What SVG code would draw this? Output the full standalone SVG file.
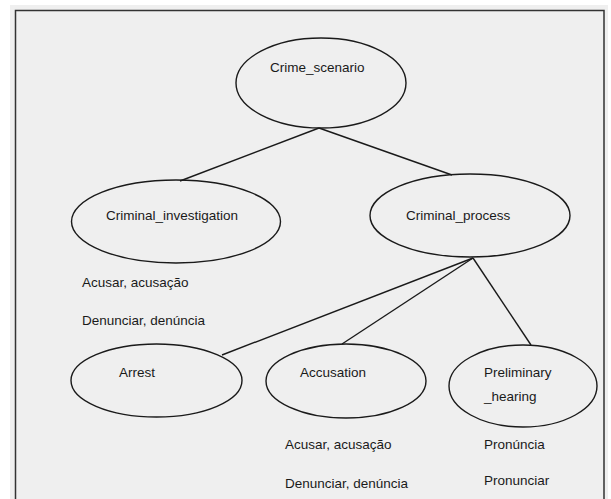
<svg xmlns="http://www.w3.org/2000/svg" width="611" height="499" viewBox="0 0 611 499">
<style>
.n{fill:none;stroke:#1a1a1a;stroke-width:1.4}
.c{stroke:#1a1a1a;stroke-width:1.4;fill:none}
text{font-family:"Liberation Sans",Arial,sans-serif;font-size:13.5px;fill:#1a1a1a}
</style>
<rect x="0" y="0" width="611" height="499" fill="#ffffff"/>
<rect x="10" y="5" width="598" height="494" fill="#efefef"/>
<path d="M15.5,499 V10.5 H604 V499" fill="none" stroke="#333" stroke-width="1.5"/>
<g id="connectors">
<line class="c" x1="319" y1="128" x2="180" y2="181"/>
<line class="c" x1="319" y1="128" x2="452" y2="175"/>
<line class="c" x1="473" y1="258" x2="222" y2="355"/>
<line class="c" x1="473" y1="258" x2="342" y2="344"/>
<line class="c" x1="473" y1="258" x2="531" y2="345"/>
</g>
<g id="crime_scenario">
<ellipse class="n" cx="321" cy="83" rx="85" ry="45"/>
<text x="270" y="72">Crime_scenario</text>
</g>
<g id="criminal_investigation">
<ellipse class="n" cx="176" cy="221.5" rx="104.5" ry="41.5"/>
<text x="106" y="220">Criminal_investigation</text>
<text x="82" y="287">Acusar, acusação</text>
<text x="82" y="325">Denunciar, denúncia</text>
</g>
<g id="criminal_process">
<ellipse class="n" cx="470" cy="215.5" rx="100" ry="41.5"/>
<text x="406" y="220">Criminal_process</text>
</g>
<g id="arrest">
<ellipse class="n" cx="156.5" cy="380.5" rx="85.5" ry="36.5"/>
<text x="119" y="377">Arrest</text>
</g>
<g id="accusation">
<ellipse class="n" cx="346" cy="381" rx="80" ry="37"/>
<text x="300" y="377">Accusation</text>
<text x="285" y="449">Acusar, acusação</text>
<text x="285" y="488">Denunciar, denúncia</text>
</g>
<g id="preliminary_hearing">
<ellipse class="n" cx="523" cy="386" rx="74" ry="41"/>
<text x="484" y="377">Preliminary</text>
<text x="484" y="401">_hearing</text>
<text x="484" y="449">Pronúncia</text>
<text x="484" y="485">Pronunciar</text>
</g>
</svg>
